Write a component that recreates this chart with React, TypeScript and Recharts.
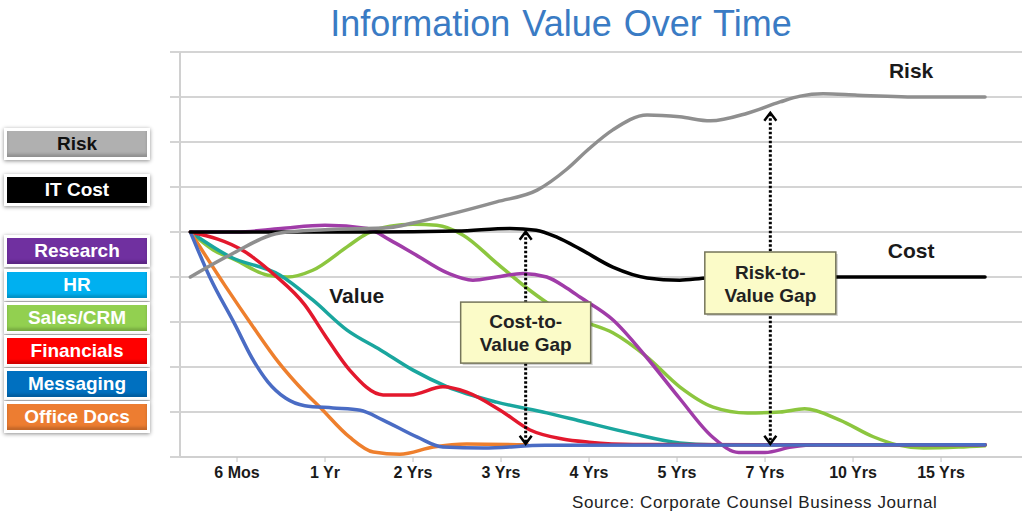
import React from 'react';
import { LineChart, Line, XAxis, YAxis, CartesianGrid, ReferenceLine, ReferenceDot } from 'recharts';

// x axis: 1 = "6 Mos" ... 9 = "15 Yrs"; y axis: 0..9 gridline units
const periods = ['6 Mos', '1 Yr', '2 Yrs', '3 Yrs', '4 Yrs', '5 Yrs', '7 Yrs', '10 Yrs', '15 Yrs'];
const periodTicks = [1, 2, 3, 4, 5, 6, 7, 8, 9];
const levelTicks = [0, 1, 2, 3, 4, 5, 6, 7, 8, 9];

const riskPts = [
  [0.47, 4.0], [0.92, 4.49], [1.49, 4.98], [2.0, 5.05], [2.74, 5.1], [3.0, 5.2], [3.39, 5.38],
  [3.95, 5.67], [4.41, 5.93], [4.75, 6.4], [5.0, 6.85], [5.27, 7.27], [5.66, 7.6], [6.03, 7.56],
  [6.38, 7.47], [6.8, 7.64], [7.17, 7.89], [7.4, 8.02], [7.66, 8.07], [8.05, 8.04], [8.8, 8.0], [9.5, 8.0],
];
const costPts = [
  [0.47, 5], [1.5, 5], [2.5, 5], [3.5, 5.02], [4.1, 5.08], [4.4, 5.04], [4.64, 4.88], [4.9, 4.62],
  [5.27, 4.22], [5.66, 3.98], [6.03, 3.93], [6.35, 3.98], [7, 4.0], [8, 4.0], [9.5, 4.0],
];
const researchPts = [
  [0.47, 5], [1.0, 5.0], [1.5, 5.08], [2.0, 5.15], [2.48, 5.08], [2.74, 4.82], [3.0, 4.53], [3.39, 4.09],
  [3.68, 3.93], [3.95, 4.0], [4.25, 4.08], [4.52, 4.0], [4.75, 3.75], [4.9, 3.55], [5.27, 3.05],
  [5.66, 2.2], [6.03, 1.3], [6.4, 0.45], [6.7, 0.1], [7.0, 0.1], [7.3, 0.22], [7.6, 0.27], [9.5, 0.27],
];
const hrPts = [
  [0.47, 5], [0.92, 4.45], [1.49, 4.04], [1.86, 3.49], [2.25, 2.82], [2.63, 2.38], [3.0, 1.93],
  [3.39, 1.56], [3.95, 1.22], [4.52, 0.98], [4.9, 0.8], [5.47, 0.53], [6.03, 0.31], [6.4, 0.27], [9.5, 0.27],
];
const salesPts = [
  [0.47, 5], [0.73, 4.6], [0.98, 4.38], [1.35, 4.04], [1.57, 4.0], [1.86, 4.15], [2.25, 4.67], [2.48, 4.97],
  [2.74, 5.13], [3.0, 5.17], [3.27, 5.15], [3.57, 4.93], [3.95, 4.31], [4.33, 3.7], [4.56, 3.38],
  [4.9, 3.04], [5.27, 2.76], [5.66, 2.22], [6.03, 1.56], [6.41, 1.11], [6.8, 0.98], [7.17, 1.0],
  [7.45, 1.07], [7.85, 0.82], [8.23, 0.45], [8.5, 0.27], [8.8, 0.2], [9.2, 0.22], [9.5, 0.25],
];
const financialsPts = [
  [0.47, 5], [1.09, 4.56], [1.43, 4.04], [1.77, 3.38], [2.0, 2.7], [2.28, 1.93], [2.66, 1.38],
  [2.97, 1.38], [3.34, 1.56], [3.61, 1.44], [3.99, 1.04], [4.33, 0.6], [4.7, 0.4],
  [5.0, 0.33], [5.5, 0.28], [9.5, 0.27],
];
const messagingPts = [
  [0.47, 5], [0.69, 4.0], [0.98, 2.93], [1.17, 2.2], [1.35, 1.67], [1.55, 1.31], [1.77, 1.14],
  [2.09, 1.09], [2.4, 1.04], [2.66, 0.82], [3.05, 0.44], [3.34, 0.22], [3.8, 0.2], [4.5, 0.26], [9.5, 0.27],
];
const officeDocsPts = [
  [0.47, 5], [0.86, 3.82], [1.17, 2.93], [1.47, 2.11], [1.77, 1.44], [1.94, 1.11], [2.28, 0.44],
  [2.55, 0.11], [2.85, 0.06], [3.23, 0.22], [3.61, 0.29], [4.3, 0.27],
];

const legendLabels = ['Risk', 'IT Cost', 'Research', 'HR', 'Sales/CRM', 'Financials', 'Messaging', 'Office Docs'];
const legendFills = ['#b0b0b0', '#000000', '#7030a0', '#00b0f0', '#92d050', '#ff0000', '#0070c0', '#ed7d31'];
const legendTops = [131, 177, 238, 272, 305, 338, 371, 404];

const toData = (pts: number[][]) => pts.map(([t, v]) => ({ t, v }));

// drawn back to front
const series = [
  { key: 'sales', color: '#8cc63f', data: toData(salesPts) },
  { key: 'research', color: '#a03ca8', data: toData(researchPts) },
  { key: 'hr', color: '#1aa69e', data: toData(hrPts) },
  { key: 'financials', color: '#e3182d', data: toData(financialsPts) },
  { key: 'officeDocs', color: '#ee7f2d', data: toData(officeDocsPts) },
  { key: 'messaging', color: '#4a6cc4', data: toData(messagingPts) },
  { key: 'cost', color: '#000000', data: toData(costPts) },
  { key: 'risk', color: '#8f8f8f', data: toData(riskPts) },
];

const font = '"Liberation Sans", Arial, sans-serif';

const GapMarker = (props: any) => {
  const { x1, y1, y2, lines, frac, w, h } = props;
  const top = Math.min(y1, y2);
  const bottom = Math.max(y1, y2);
  const cy = top + (bottom - top) * frac;
  return (
    <g>
      <line x1={x1} y1={top + 2} x2={x1} y2={bottom - 2} stroke="#000" strokeWidth={3} strokeDasharray="2.5 2" />
      <polyline points={`${x1 - 6},${top + 9} ${x1},${top + 1} ${x1 + 6},${top + 9}`} fill="none" stroke="#000" strokeWidth={2.5} />
      <polyline points={`${x1 - 6},${bottom - 9} ${x1},${bottom - 1} ${x1 + 6},${bottom - 9}`} fill="none" stroke="#000" strokeWidth={2.5} />
      <rect x={x1 - w / 2 + 2} y={cy - h / 2 + 2} width={w} height={h} fill="rgba(0,0,0,0.18)" />
      <rect x={x1 - w / 2} y={cy - h / 2} width={w} height={h} fill="#fbfbc8" stroke="#75755a" strokeWidth={1.5} />
      <text x={x1} y={cy - 11} textAnchor="middle" dominantBaseline="central" fontFamily={font} fontWeight="bold" fontSize={19} fill="#222">
        {lines[0]}
      </text>
      <text x={x1} y={cy + 12} textAnchor="middle" dominantBaseline="central" fontFamily={font} fontWeight="bold" fontSize={19} fill="#222">
        {lines[1]}
      </text>
    </g>
  );
};

const tag = (label: string) => (p: any) => (
  <text x={p.cx} y={p.cy} textAnchor="middle" dominantBaseline="central" fontFamily={font} fontWeight="bold" fontSize={21} fill="#1a1a1a">
    {label}
  </text>
);

export default function App() {
  return (
    <div style={{ position: 'absolute', left: 0, top: 0, width: 1024, height: 516, background: '#fff', overflow: 'hidden' }}>
      <div
        style={{
          position: 'absolute', left: 561, top: 4, transform: 'translateX(-50%)', whiteSpace: 'nowrap',
          fontFamily: font, fontSize: 36, lineHeight: '40px', color: '#3a7bc4', wordSpacing: 2,
        }}
      >
        Information Value Over Time
      </div>

      <LineChart width={1024} height={516} margin={{ top: 52, right: 2, left: 170, bottom: 29 }}>
        <CartesianGrid horizontal vertical={false} stroke="#d4d4d4" strokeWidth={2} />
        <XAxis
          type="number"
          dataKey="t"
          domain={[0.352, 9.92]}
          ticks={periodTicks}
          tickFormatter={(i: number) => periods[i - 1]}
          height={30}
          tickSize={5}
          tickMargin={5}
          axisLine={{ stroke: '#d0d0d0', strokeWidth: 2 }}
          tickLine={{ stroke: '#c4c4c4' }}
          tick={{ fontFamily: font, fontWeight: 'bold', fontSize: 16, fill: '#1a1a1a' }}
        />
        <YAxis
          type="number"
          domain={[0, 9]}
          ticks={levelTicks}
          width={10}
          tickSize={10}
          tickFormatter={() => ''}
          tick={{ fill: 'none' }}
          axisLine={{ stroke: '#d0d0d0', strokeWidth: 2 }}
          tickLine={{ stroke: '#d4d4d4', strokeWidth: 2 }}
        />
        {series.map((s) => (
          <Line
            key={s.key}
            data={s.data}
            dataKey="v"
            type="monotone"
            stroke={s.color}
            strokeWidth={3.5}
            strokeLinecap="round"
            dot={false}
            activeDot={false}
            isAnimationActive={false}
          />
        ))}
        <ReferenceLine
          segment={[{ x: 4.28, y: 5.03 }, { x: 4.28, y: 0.27 }]}
          shape={(p: any) => <GapMarker {...p} lines={['Cost-to-', 'Value Gap']} frac={0.476} w={130} h={61} />}
        />
        <ReferenceLine
          segment={[{ x: 7.06, y: 7.67 }, { x: 7.06, y: 0.27 }]}
          shape={(p: any) => <GapMarker {...p} lines={['Risk-to-', 'Value Gap']} frac={0.514} w={131} h={62} />}
        />
        <ReferenceDot x={8.66} y={8.6} r={0} shape={tag('Risk')} />
        <ReferenceDot x={8.66} y={4.58} r={0} shape={tag('Cost')} />
        <ReferenceDot x={2.36} y={3.58} r={0} shape={tag('Value')} />
      </LineChart>

      {legendLabels.map((label, i) => (
        <div
          key={label}
          style={{
            position: 'absolute', left: 4, top: legendTops[i] - 3, width: 146, height: 32, boxSizing: 'border-box',
            border: '3px solid #fff', boxShadow: '0 1px 4px rgba(0,0,0,0.45), inset 0 -3px 3px rgba(0,0,0,0.18)',
            background: legendFills[i], color: i === 0 ? '#111' : '#fff', textAlign: 'center',
            fontFamily: font, fontWeight: 'bold', fontSize: 19, lineHeight: '26px',
          }}
        >
          {label}
        </div>
      ))}

      <div
        style={{
          position: 'absolute', left: 572, top: 493, whiteSpace: 'nowrap', fontFamily: font,
          fontSize: 17, letterSpacing: 0.6, lineHeight: '20px', color: '#222',
        }}
      >
        Source: Corporate Counsel Business Journal
      </div>
    </div>
  );
}
